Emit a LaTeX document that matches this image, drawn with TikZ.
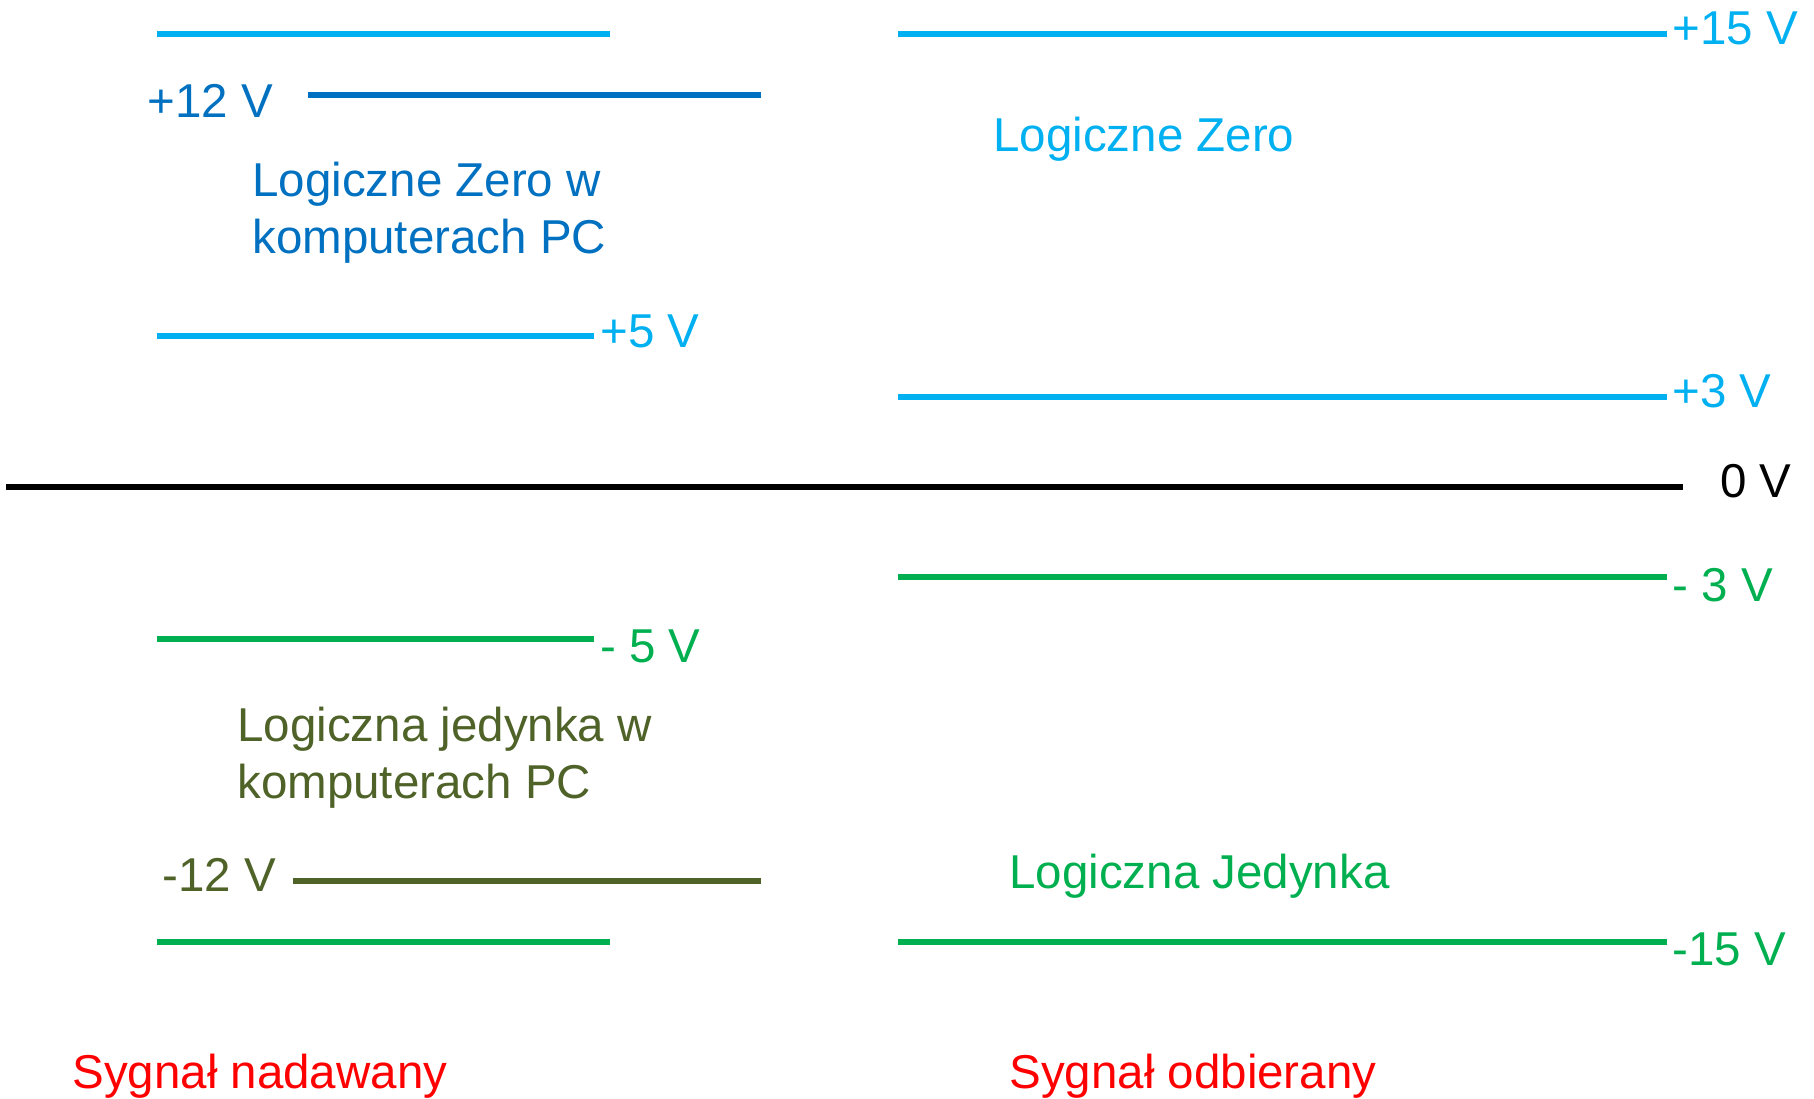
\documentclass[tikz,border=0pt]{standalone}
\usepackage{fontspec}
\setmainfont{Liberation Sans}
\usepackage{tikz}
\usetikzlibrary{positioning}
\definecolor{lvlcyan}{RGB}{0,176,240}
\definecolor{lvlblue}{RGB}{0,112,192}
\definecolor{lvlgreen}{RGB}{0,176,80}
\definecolor{lvlolive}{RGB}{79,98,40}
\definecolor{lvlred}{RGB}{255,0,0}

\begin{document}
\begin{tikzpicture}[x=0.5pt, y=-0.5pt,
  lvl/.style={line width=2.7pt},
  zero/.style={lvl, lvlcyan},
  one/.style={lvl, lvlgreen},
  txt/.style={inner sep=0pt, font=\fontsize{23.75}{28.5}\selectfont},
  volt/.style={txt, anchor=west},
  note/.style={txt, align=left, anchor=north west}
]
  \useasboundingbox (0,0) rectangle (1814,1098);

  % nadajnik (lewa strona)
  \draw[zero] (157,34) -- (610,34);
  \draw[lvl, lvlblue] (308,95) -- (761,95);
  \draw[zero] (157,336) -- (594,336);
  \draw[one] (157,639) -- (594,639);
  \draw[lvl, lvlolive] (293,881) -- (761,881);
  \draw[one] (157,942) -- (610,942);

  \node[volt, lvlblue]  (p12) at (147,101) {+12 V};
  \node[volt, lvlcyan]  (p5)  at (600,331) {+5 V};
  \node[volt, lvlgreen] (m5)  at (600,646) {- 5 V};
  \node[volt, lvlolive] (m12) at (162,875) {-12 V};

  \node[note, lvlblue]  (zeropc) at (252,162) {Logiczne Zero w\\komputerach PC};
  \node[note, lvlolive] (onepc)  at (237,707) {Logiczna jedynka w\\komputerach PC};

  % odbiornik (prawa strona)
  \draw[zero] (898,34) -- (1667,34);
  \draw[zero] (898,397) -- (1667,397);
  \draw[one] (898,577) -- (1667,577);
  \draw[one] (898,942) -- (1667,942);

  \node[volt, lvlcyan]  (p15) at (1672,28)  {+15 V};
  \node[volt, lvlcyan]  (p3)  at (1672,391) {+3 V};
  \node[volt, lvlgreen] (m3)  at (1672,585) {- 3 V};
  \node[volt, lvlgreen] (m15) at (1672,949) {-15 V};

  \node[txt, anchor=base west, lvlcyan]  (zero)  at (993,151) {Logiczne Zero};
  \node[txt, anchor=base west, lvlgreen] (jedyn) at (1009,888) {Logiczna Jedynka};

  % masa
  \draw[lvl, black] (6,487) -- (1683,487);
  \node[volt] (gnd) at (1720,481) {0 V};

  \node[txt, anchor=base west, lvlred] (nad) at (72,1088)   {Sygnał nadawany};
  \node[txt, anchor=base west, lvlred] (odb) at (1009,1088) {Sygnał odbierany};
\end{tikzpicture}
\end{document}
